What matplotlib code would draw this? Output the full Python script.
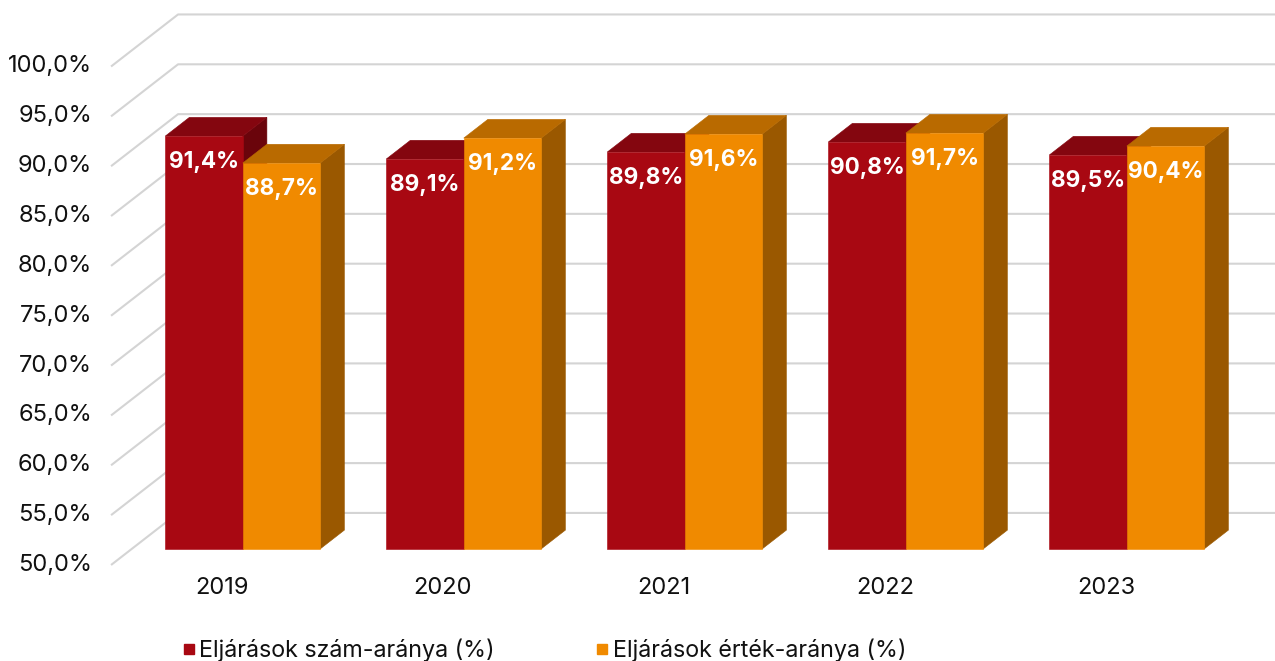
import matplotlib
matplotlib.use("Agg")
import matplotlib.pyplot as plt
from matplotlib.patches import Polygon
from matplotlib.lines import Line2D

plt.rcParams['font.family'] = ['Inter', 'DejaVu Sans']

years = ['2019', '2020', '2021', '2022', '2023']
szam = [91.4, 89.1, 89.8, 90.8, 89.5]
ertek = [88.7, 91.2, 91.6, 91.7, 90.4]
ticks = [50, 55, 60, 65, 70, 75, 80, 85, 90, 95, 100]
series_names = ['Eljárások szám-aránya (%)', 'Eljárások érték-aránya (%)']

# colours: front, top, side
red = ('#A80812', '#84060F', '#6A040B')
orange = ('#F08A00', '#B96A00', '#9A5800')
grid_col = '#D4D4D4'

# fake 3d (oblique) projection: a full depth step shifts x and y
DX = 0.3032
DY = 5.22
BASE = 50
WALL_X = -0.502
BAR_W = 0.3507
D0, D1 = 0.31, 0.67


def P(x, y, d):
    return (x + d * DX, y + d * DY)


def fmt(v):
    return f"{v:.1f}".replace('.', ',') + '%'


fig = plt.figure(figsize=(12.75, 6.61), dpi=100)
ax = fig.add_axes([0, 0, 1, 1])
ax.set_xlim(-1.0045, 4.7647)
ax.set_ylim(40.37, 106.67)
ax.axis('off')

# walls / gridlines
for t in ticks:
    a = P(WALL_X, t, 0)
    b = P(WALL_X, t, 1)
    c = P(4.9, t, 1)
    ax.plot([a[0], b[0], c[0]], [a[1], b[1], c[1]], color=grid_col,
            lw=1.5, solid_capstyle='butt', zorder=1)
    ax.text(a[0] - 0.086, t, fmt(t), ha='right', va='center',
            fontsize=17, color='#111111')


def bar(x0, x1, v, cols):
    front = [P(x0, BASE, D0), P(x1, BASE, D0), P(x1, v, D0), P(x0, v, D0)]
    top = [P(x0, v, D0), P(x1, v, D0), P(x1, v, D1), P(x0, v, D1)]
    side = [P(x1, BASE, D0), P(x1, BASE, D1), P(x1, v, D1), P(x1, v, D0)]
    for poly, c in ((side, cols[2]), (top, cols[1]), (front, cols[0])):
        ax.add_patch(Polygon(poly, closed=True, facecolor=c, edgecolor=c,
                             lw=0.4, zorder=2))
    cx = (x0 + x1) / 2 + D0 * DX
    ax.text(cx, v + D0 * DY - 2.6, fmt(v), ha='center', va='center',
            color='white', fontsize=16.3, fontweight='bold', zorder=3)


for i, y in enumerate(years):
    bar(i - BAR_W, i, szam[i], red)
    bar(i, i + BAR_W, ertek[i], orange)
    ax.text(i, 47.7, y, ha='center', va='center', fontsize=17,
            color='#111111')

handles = [Line2D([], [], ls='none', marker='s', markersize=7.5,
                  markerfacecolor=red[0], markeredgecolor=red[0]),
           Line2D([], [], ls='none', marker='s', markersize=7.5,
                  markerfacecolor=orange[0], markeredgecolor=orange[0])]
fig.legend(handles, series_names, loc='center', ncol=2,
           bbox_to_anchor=(544 / 1275, 1 - 650 / 661), frameon=False,
           fontsize=16.8, handlelength=0.6, handletextpad=0.15,
           columnspacing=4.3, labelcolor='#111111')

fig.savefig('out.png', dpi=100)
